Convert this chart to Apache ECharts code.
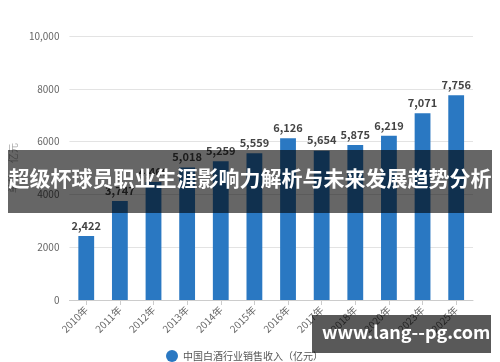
<!DOCTYPE html>
<html>
<head>
<meta charset="utf-8">
<script src="https://cdn.jsdelivr.net/npm/echarts@6/dist/echarts.min.js"></script>
<style>
html,body{margin:0;padding:0;background:#fff;}
#chart{width:500px;height:362px;}
</style>
</head>
<body>
<div id="chart"></div>
<script>
var categories = ['2010年','2011年','2012年','2013年','2014年','2015年','2016年','2017年','2018年','2020年','2023年','2025年'];
var revenue = [2422, 3747, 4466, 5018, 5259, 5559, 6126, 5654, 5875, 6219, 7071, 7756];
var yTicks = [0, 2000, 4000, 6000, 8000, 10000];
var seriesName = '中国白酒行业销售收入（亿元）';
var bannerText = '超级杯球员职业生涯影响力解析与未来发展趋势分析';
var siteText = 'www.lang--pg.com';

var chart = echarts.init(document.getElementById('chart'));
var fontFamily = '"Noto Sans CJK SC","Noto Sans",sans-serif';
chart.setOption({
  animation: false,
  textStyle: {fontFamily: fontFamily},
  grid: {left: 68, right: 27, top: 36, bottom: 62},
  legend: {
    bottom: -5, left: 161,
    icon: 'circle', itemWidth: 12, itemHeight: 12,
    textStyle: {color: '#555', fontSize: 10},
    data: [seriesName]
  },
  xAxis: {
    type: 'category',
    data: categories,
    axisLine: {lineStyle: {color: '#ccc'}},
    axisTick: {show: true, alignWithLabel: true, lineStyle: {color: '#ccc'}},
    axisLabel: {rotate: 45, color: '#666', fontSize: 10, margin: 8}
  },
  yAxis: {
    type: 'value',
    min: yTicks[0], max: yTicks[yTicks.length - 1], interval: 2000,
    name: '单位：亿元', nameLocation: 'middle', nameRotate: 90, nameGap: 50,
    nameTextStyle: {color: '#aaa', fontSize: 10},
    axisLine: {show: false}, axisTick: {show: false},
    splitLine: {lineStyle: {color: '#e3e3e3'}},
    axisLabel: {
      color: '#666', fontSize: 10, margin: 10,
      formatter: function (v) { return v >= 10000 ? v.toLocaleString('en-US') : String(v); }
    }
  },
  series: [{
    name: seriesName,
    type: 'bar',
    data: revenue,
    barWidth: '47%',
    itemStyle: {color: '#2a78c2'},
    label: {
      show: true, position: 'top', color: '#444', fontSize: 11, fontWeight: 'bold',
      formatter: function (p) { return p.value.toLocaleString('en-US'); }
    }
  }],
  graphic: [
    {type: 'rect', left: 8, top: 150, shape: {width: 484, height: 63},
     style: {fill: 'rgba(0,0,0,0.6)'}, z: 100},
    {type: 'text', left: 'center', top: 168,
     style: {text: bannerText, fill: '#fff', font: 'bold 21px ' + fontFamily}, z: 101},
    {type: 'rect', left: 312, top: 315, shape: {width: 179, height: 38},
     style: {fill: 'rgba(0,0,0,0.65)'}, z: 100},
    {type: 'text', left: 322, top: 323,
     style: {text: siteText, fill: '#fff', font: 'bold 18px ' + fontFamily}, z: 101}
  ]
});
</script>
</body>
</html>
